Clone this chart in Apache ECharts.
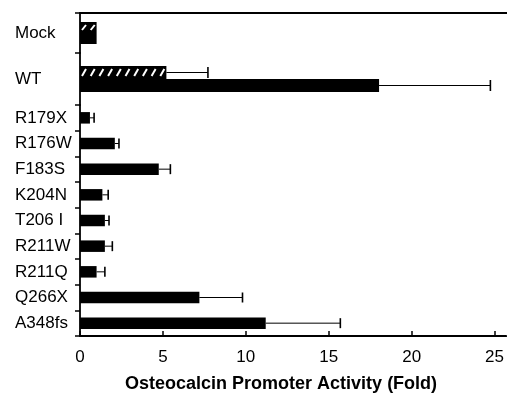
<!DOCTYPE html>
<html>
<head>
<meta charset="utf-8">
<script src="https://cdn.jsdelivr.net/npm/echarts@6/dist/echarts.min.js"></script>
<style>
  html, body { margin: 0; padding: 0; background: #fff; }
  #chart { width: 507px; height: 398px; }
</style>
</head>
<body>
<div id="chart"></div>
<script>
// Constructs tested, fold activation of the osteocalcin promoter
const categories = ['Mock', 'WT', 'R179X', 'R176W', 'F183S', 'K204N', 'T206 I', 'R211W', 'R211Q', 'Q266X', 'A348fs'];
// Hatched series: measured for Mock and WT only
const hatchedValues = [1.0, 5.2];
const hatchedErrors = [0, 2.5];
// Solid series: every construct
const solidValues = [1.0, 18.0, 0.6, 2.1, 4.75, 1.35, 1.5, 1.5, 1.0, 7.2, 11.2];
const solidErrors = [0, 6.7, 0.25, 0.25, 0.7, 0.35, 0.25, 0.45, 0.5, 2.6, 4.5];
const xTicks = [0, 5, 10, 15, 20, 25];
const xTitle = 'Osteocalcin Promoter Activity (Fold)';

const FONT = '"Liberation Sans", Arial, Helvetica, sans-serif';
const X_MAX = 25.7;

// three stacked panels share the same value scale: Mock, WT, mutants
const groups = [
  { cats: categories.slice(0, 1), top: 13, height: 40, barW: 11 },
  { cats: categories.slice(1, 2), top: 53, height: 52, barW: 13 },
  { cats: categories.slice(2), top: 105, height: 236, barW: 11.5 }
];

const grid = groups.map(g => ({ left: 80, right: 0, top: g.top, height: g.height, containLabel: false }));

const xAxis = groups.map((g, i) => ({
  type: 'value',
  gridIndex: i,
  min: 0,
  max: X_MAX,
  position: i === 0 ? 'top' : 'bottom',
  show: i !== 1,
  splitLine: { show: false },
  axisLine: { show: true, lineStyle: { color: '#000', width: 1.8 } },
  axisTick: i === 2
    ? { show: true, inside: true, length: 5, customValues: xTicks, lineStyle: { color: '#000', width: 1.5 } }
    : { show: false },
  axisLabel: i === 2
    ? { show: true, customValues: xTicks, color: '#000', fontSize: 17, fontFamily: FONT, margin: 13 }
    : { show: false },
  name: i === 2 ? xTitle : '',
  nameLocation: 'middle',
  nameGap: 39,
  nameTextStyle: { color: '#000', fontSize: 18, fontWeight: 'bold', fontFamily: FONT, padding: [0, 24, 0, 0] }
}));

const yAxis = groups.map((g, i) => ({
  type: 'category',
  gridIndex: i,
  inverse: true,
  data: g.cats,
  axisLine: { show: true, lineStyle: { color: '#000', width: 1.8 } },
  axisTick: { show: true, inside: false, length: 5, lineStyle: { color: '#000', width: 1.5 } },
  axisLabel: { show: true, interval: 0, margin: 65, align: 'left', color: '#000', fontSize: 17, fontFamily: FONT }
}));

// white slanted strokes over the hatched bars
function hatchRender(barW) {
  return function (params, api) {
    const v = api.value(0);
    const idx = api.value(1);
    const p0 = api.coord([0, idx]);
    const p1 = api.coord([v, idx]);
    const yt = p0[1] - barW;
    const yb = p0[1];
    const strokes = [];
    for (let px = p0[0] + 2; px < p1[0]; px += 8.7) {
      strokes.push({
        type: 'line',
        shape: { x1: px, y1: yb - 3, x2: px + 4, y2: yt + 3 },
        style: { stroke: '#fff', lineWidth: 2 }
      });
    }
    return {
      type: 'group',
      clipPath: { type: 'rect', shape: { x: p0[0], y: yt, width: p1[0] - p0[0], height: barW } },
      children: strokes
    };
  };
}

// horizontal error whisker with an end cap
function errorRender(offset, capHalf) {
  return function (params, api) {
    const v = api.value(0);
    const idx = api.value(1);
    const e = api.value(2);
    if (!e) return null;
    const s = api.coord([v, idx]);
    const t = api.coord([v + e, idx]);
    const y = s[1] + offset;
    return {
      type: 'group',
      children: [
        { type: 'line', shape: { x1: s[0], y1: y, x2: t[0], y2: y }, style: { stroke: '#000', lineWidth: 1 } },
        { type: 'line', shape: { x1: t[0], y1: y - capHalf, x2: t[0], y2: y + capHalf }, style: { stroke: '#000', lineWidth: 1.6 } }
      ]
    };
  };
}

const series = [];
// Mock and WT panels: hatched bar above solid bar
[0, 1].forEach(gi => {
  const w = groups[gi].barW;
  series.push({
    type: 'bar', name: 'hatched', xAxisIndex: gi, yAxisIndex: gi,
    data: [hatchedValues[gi]], barWidth: w, barGap: '0%',
    itemStyle: { color: '#000' }, silent: true
  });
  series.push({
    type: 'bar', name: 'solid', xAxisIndex: gi, yAxisIndex: gi,
    data: [solidValues[gi]], barWidth: w, barGap: '0%',
    itemStyle: { color: '#000' }, silent: true
  });
  series.push({
    type: 'custom', xAxisIndex: gi, yAxisIndex: gi, silent: true, z: 5,
    renderItem: hatchRender(w),
    data: [[hatchedValues[gi], 0]]
  });
  series.push({
    type: 'custom', xAxisIndex: gi, yAxisIndex: gi, silent: true, z: 1,
    renderItem: errorRender(-w / 2, 5.5),
    data: [[hatchedValues[gi], 0, hatchedErrors[gi]]]
  });
  series.push({
    type: 'custom', xAxisIndex: gi, yAxisIndex: gi, silent: true, z: 1,
    renderItem: errorRender(w / 2, 5.5),
    data: [[solidValues[gi], 0, solidErrors[gi]]]
  });
});
// mutant panel: solid bars only
series.push({
  type: 'bar', name: 'solid', xAxisIndex: 2, yAxisIndex: 2,
  data: solidValues.slice(2), barWidth: groups[2].barW,
  itemStyle: { color: '#000' }, silent: true
});
series.push({
  type: 'custom', xAxisIndex: 2, yAxisIndex: 2, silent: true, z: 1,
  renderItem: errorRender(0, 5),
  data: solidValues.slice(2).map((v, i) => [v, i, solidErrors[i + 2]])
});

const chart = echarts.init(document.getElementById('chart'), null, { renderer: 'canvas' });
chart.setOption({
  animation: false,
  backgroundColor: '#fff',
  grid: grid,
  xAxis: xAxis,
  yAxis: yAxis,
  series: series
});
</script>
</body>
</html>
